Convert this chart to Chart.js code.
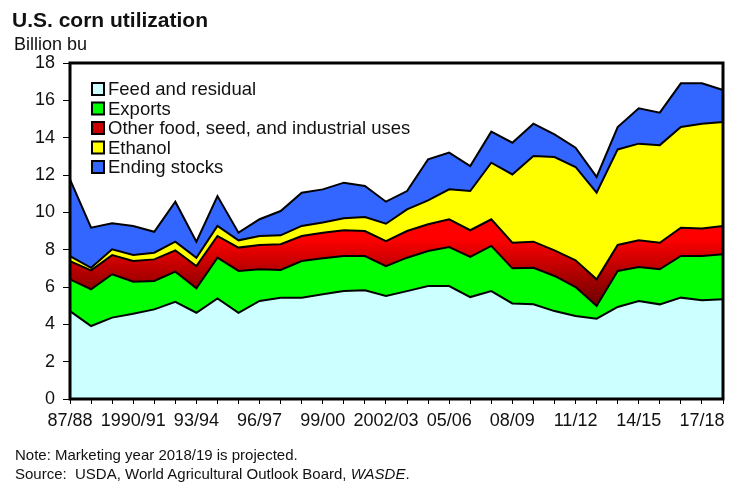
<!DOCTYPE html>
<html>
<head>
<meta charset="utf-8">
<script src="https://cdn.jsdelivr.net/npm/chart.js@4"></script>
<style>
  body { margin: 0; background: #fff; font-family: Arial, "Liberation Sans", sans-serif; }
  #wrap { position: relative; width: 729px; height: 483px; }
  #myChart { position: absolute; left: 0; top: 0; }
  .txt { position: absolute; color: #111; white-space: pre; }
  #title { left: 12px; top: 8px; font-size: 21px; font-weight: bold; }
  #unit { left: 14px; top: 34px; font-size: 18px; }
  #note { left: 15px; top: 446px; font-size: 15px; }
  #source { left: 15px; top: 465px; font-size: 15px; }
</style>
</head>
<body>
<div id="wrap">
  <canvas id="myChart" width="729" height="483"></canvas>
  <div class="txt" id="title">U.S. corn utilization</div>
  <div class="txt" id="unit">Billion bu</div>
  <div class="txt" id="note">Note: Marketing year 2018/19 is projected.</div>
  <div class="txt" id="source">Source:  USDA, World Agricultural Outlook Board, <i>WASDE</i>.</div>
</div>
<script>
// marketing years 1987/88 - 2018/19
const years = ["87/88", "88/89", "89/90", "1990/91", "91/92", "92/93", "93/94", "94/95",
  "95/96", "96/97", "97/98", "98/99", "99/00", "2000/01", "01/02", "2002/03",
  "03/04", "04/05", "05/06", "06/07", "07/08", "08/09", "09/10", "10/11",
  "11/12", "12/13", "13/14", "14/15", "15/16", "16/17", "17/18", "18/19"];

// billion bushels
const feed = [4.71, 3.91, 4.36, 4.57, 4.80, 5.21, 4.62, 5.39, 4.62, 5.25, 5.43, 5.43, 5.61, 5.78, 5.82, 5.52,
  5.78, 6.05, 6.05, 5.46, 5.78, 5.12, 5.07, 4.71, 4.45, 4.30, 4.93, 5.25, 5.07, 5.43, 5.29, 5.34];
const exportsUse = [1.70, 1.96, 2.32, 1.71, 1.52, 1.61, 1.31, 2.18, 2.24, 1.70, 1.48, 1.96, 1.93, 1.88, 1.84, 1.60,
  1.79, 1.88, 2.09, 2.15, 2.42, 1.88, 1.96, 1.88, 1.55, 0.68, 1.93, 1.82, 1.88, 2.23, 2.37, 2.41];
const otherFsi = [0.98, 1.02, 1.03, 1.11, 1.16, 1.14, 1.19, 1.16, 1.25, 1.30, 1.38, 1.34, 1.37, 1.38, 1.34, 1.34,
  1.43, 1.43, 1.49, 1.43, 1.43, 1.37, 1.40, 1.37, 1.43, 1.43, 1.39, 1.43, 1.42, 1.52, 1.48, 1.52];
const ethanol = [0.27, 0.14, 0.31, 0.32, 0.36, 0.47, 0.45, 0.54, 0.39, 0.48, 0.48, 0.54, 0.54, 0.64, 0.75, 0.93,
  1.16, 1.28, 1.60, 2.10, 3.03, 3.66, 4.59, 5.00, 5.00, 4.64, 5.12, 5.18, 5.23, 5.39, 5.61, 5.57];
const endingStocks = [4.11, 2.15, 1.39, 1.56, 1.12, 2.14, 0.86, 1.60, 0.41, 0.90, 1.30, 1.78, 1.78, 1.91, 1.66, 1.18,
  0.98, 2.20, 1.97, 1.34, 1.66, 1.70, 1.73, 1.22, 1.03, 0.85, 1.20, 1.89, 1.74, 2.34, 2.16, 1.71];

const seriesNames = ["Feed and residual", "Exports", "Other food, seed, and industrial uses", "Ethanol", "Ending stocks"];
const seriesColors = ["#ccffff", "#00ff00", "#d80000", "#ffff00", "#3366ff"];

const FONT = 'Arial, "Liberation Sans", sans-serif';

// red band gets darker lower down, like the original
function redFill(ctx) {
  const chart = ctx.chart;
  if (!chart.chartArea) return seriesColors[2];
  const y = chart.scales.y;
  const g = chart.ctx.createLinearGradient(0, y.getPixelForValue(8.6), 0, y.getPixelForValue(5));
  g.addColorStop(0, "#ff0000");
  g.addColorStop(1, "#6a0000");
  return g;
}

// legend drawn inside the plot, top left
const insideLegend = {
  id: "insideLegend",
  afterDraw(chart) {
    const c = chart.ctx;
    c.save();
    c.font = "18.5px " + FONT;
    c.textBaseline = "middle";
    seriesNames.forEach((name, i) => {
      const cy = 89 + i * 19.5;
      c.fillStyle = i === 2 ? "#cc0000" : seriesColors[i];
      c.fillRect(92, cy - 6, 12, 12);
      c.lineWidth = 2;
      c.strokeStyle = "#000";
      c.strokeRect(92, cy - 6, 12, 12);
      c.fillStyle = "#111";
      c.fillText(name, 108, cy + 1);
    });
    c.restore();
  }
};

// heavy frame round the plot
const plotFrame = {
  id: "plotFrame",
  afterDatasetsDraw(chart) {
    const a = chart.chartArea;
    const c = chart.ctx;
    c.save();
    c.lineWidth = 3;
    c.strokeStyle = "#000";
    c.strokeRect(a.left, a.top, a.right - a.left, a.bottom - a.top);
    c.restore();
  }
};

const values = [feed, exportsUse, otherFsi, ethanol, endingStocks];

new Chart("myChart", {
  type: "line",
  data: {
    labels: years,
    datasets: values.map((v, i) => ({
      label: seriesNames[i],
      data: v,
      fill: i === 0 ? "origin" : "-1",
      backgroundColor: i === 2 ? redFill : seriesColors[i],
      borderColor: "#000",
      borderWidth: 2,
      pointRadius: 0,
      tension: 0
    }))
  },
  options: {
    responsive: false,
    animation: false,
    layout: { padding: { left: 0, right: 5, top: 63, bottom: 0 } },
    plugins: {
      legend: { display: false },
      tooltip: { enabled: false },
      filler: { drawTime: "beforeDatasetsDraw" }
    },
    scales: {
      x: {
        offset: false,
        border: { display: false },
        grid: { drawOnChartArea: false, drawTicks: true, tickLength: 5, color: "#000" },
        ticks: {
          autoSkip: false,
          maxRotation: 0,
          padding: 6,
          color: "#111",
          font: { family: FONT, size: 18 },
          callback: (val, idx) => idx % 3 === 0 ? years[idx] : ""
        },
        afterFit: s => { s.height = 84; }
      },
      y: {
        stacked: true,
        min: 0,
        max: 18,
        border: { display: false },
        grid: { drawOnChartArea: false, drawTicks: true, tickLength: 7, color: "#000" },
        ticks: {
          stepSize: 2,
          padding: 8,
          color: "#111",
          font: { family: FONT, size: 18 }
        },
        afterFit: s => { s.width = 70; }
      }
    }
  },
  plugins: [plotFrame, insideLegend]
});
</script>
</body>
</html>
